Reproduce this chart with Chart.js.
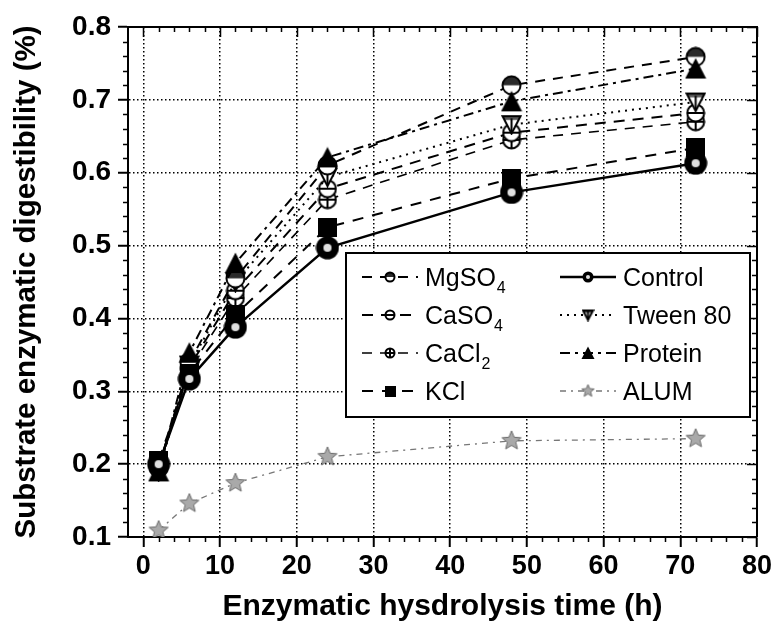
<!DOCTYPE html>
<html>
<head>
<meta charset="utf-8">
<script src="https://cdn.jsdelivr.net/npm/chart.js@4.4.1/dist/chart.umd.min.js"></script>
<style>
html, body { margin: 0; padding: 0; background: #fff; }
</style>
</head>
<body>
<canvas id="chart" width="777" height="626"></canvas>
<script>
// hydrolysis times (h)
const hours = [2, 6, 12, 24, 48, 72];

// digestibility
const control = [0.200, 0.317, 0.388, 0.497, 0.573, 0.613];
const kcl     = [0.205, 0.325, 0.405, 0.525, 0.592, 0.634];
const cacl2   = [0.195, 0.330, 0.428, 0.563, 0.645, 0.670];
const caso4   = [0.195, 0.333, 0.438, 0.578, 0.655, 0.682];
const tween80 = [0.190, 0.336, 0.450, 0.594, 0.666, 0.697];
const mgso4   = [0.195, 0.340, 0.455, 0.610, 0.720, 0.759];
const protein = [0.190, 0.353, 0.476, 0.621, 0.698, 0.743];
const alum    = [0.109, 0.146, 0.174, 0.210, 0.232, 0.235];

const xTicks = { min: -2, max: 80, step: 10, minor: 2 };
const yTicks = { min: 0.1, max: 0.8, step: 0.1, minor: 0.02 };

const FONT = "'Liberation Sans', Arial, Helvetica, sans-serif";
Chart.defaults.font.family = FONT;
Chart.defaults.color = '#000';

// small canvases used as point markers
function marker(size, draw) {
    const c = document.createElement('canvas');
    c.width = size; c.height = size;
    draw(c.getContext('2d'), size);
    return c;
}

function controlMark(s) {
    return marker(s, (g, n) => {
        g.fillStyle = '#000';
        g.beginPath(); g.arc(n / 2, n / 2, n / 2 - 0.5, 0, Math.PI * 2); g.fill();
        g.fillStyle = '#e0e0e0';
        g.beginPath(); g.arc(n / 2, n / 2, n * 0.17, 0, Math.PI * 2); g.fill();
    });
}
function halfCircleMark(s) {
    return marker(s, (g, n) => {
        const r = n / 2 - 1.5;
        g.fillStyle = '#fff';
        g.beginPath(); g.arc(n / 2, n / 2, r, 0, Math.PI * 2); g.fill();
        g.fillStyle = '#2a2a2a';
        g.beginPath(); g.arc(n / 2, n / 2, r, Math.PI, 0); g.closePath(); g.fill();
        g.strokeStyle = '#000'; g.lineWidth = 2;
        g.beginPath(); g.arc(n / 2, n / 2, r, 0, Math.PI * 2); g.stroke();
    });
}
function thetaMark(s) {
    return marker(s, (g, n) => {
        const r = n / 2 - 1.5;
        g.fillStyle = '#fff';
        g.beginPath(); g.arc(n / 2, n / 2, r, 0, Math.PI * 2); g.fill();
        g.strokeStyle = '#000'; g.lineWidth = 2;
        g.beginPath(); g.arc(n / 2, n / 2, r, 0, Math.PI * 2); g.stroke();
        g.beginPath(); g.moveTo(n / 2 - r, n / 2); g.lineTo(n / 2 + r, n / 2); g.stroke();
    });
}
function crossCircleMark(s) {
    return marker(s, (g, n) => {
        const r = n / 2 - 1.5;
        g.fillStyle = '#fff';
        g.beginPath(); g.arc(n / 2, n / 2, r, 0, Math.PI * 2); g.fill();
        g.strokeStyle = '#000'; g.lineWidth = 2;
        g.beginPath(); g.arc(n / 2, n / 2, r, 0, Math.PI * 2); g.stroke();
        g.beginPath();
        g.moveTo(n / 2 - r, n / 2); g.lineTo(n / 2 + r, n / 2);
        g.moveTo(n / 2, n / 2 - r); g.lineTo(n / 2, n / 2 + r);
        g.stroke();
    });
}
function squareMark(s) {
    return marker(s, (g, n) => { g.fillStyle = '#000'; g.fillRect(0, 0, n, n); });
}
function downTriMark(s) {
    return marker(s, (g, n) => {
        g.fillStyle = '#fff'; g.strokeStyle = '#000'; g.lineWidth = 2;
        g.beginPath(); g.moveTo(1.5, 2); g.lineTo(n - 1.5, 2); g.lineTo(n / 2, n - 1.5); g.closePath();
        g.fill();
        g.fillStyle = '#555';
        g.fillRect(3, 2, n - 6, n * 0.18);
        g.stroke();
        g.beginPath(); g.moveTo(n / 2, n * 0.2); g.lineTo(n / 2, n - 3); g.stroke();
    });
}
function upTriMark(s) {
    return marker(s, (g, n) => {
        g.fillStyle = '#000';
        g.beginPath(); g.moveTo(n / 2, 0.5); g.lineTo(n - 0.5, n - 1); g.lineTo(0.5, n - 1); g.closePath(); g.fill();
    });
}
function starMark(s) {
    return marker(s, (g, n) => {
        const c = n / 2, R = n / 2 - 1, r = R * 0.45;
        g.beginPath();
        for (let i = 0; i < 10; i++) {
            const a = -Math.PI / 2 + i * Math.PI / 5;
            const rad = i % 2 === 0 ? R : r;
            g.lineTo(c + rad * Math.cos(a), c + rad * Math.sin(a));
        }
        g.closePath();
        g.fillStyle = '#a9a9a9'; g.fill();
        g.strokeStyle = '#6a6a6a'; g.lineWidth = 1; g.stroke();
    });
}

const series = [
    { label: 'Control', sub: '', data: control, dash: [], width: 2.5, color: '#000', mark: controlMark, size: 24, legSize: 12 },
    { label: 'KCl', sub: '', data: kcl, dash: [11, 9], width: 2, color: '#000', mark: squareMark, size: 19, legSize: 11 },
    { label: 'Protein', sub: '', data: protein, dash: [10, 5, 3, 5], width: 2, color: '#000', mark: upTriMark, size: 22, legSize: 14 },
    { label: 'MgSO', sub: '4', data: mgso4, dash: [10, 8], width: 2, color: '#000', mark: halfCircleMark, size: 21, legSize: 12 },
    { label: 'Tween 80', sub: '', data: tween80, dash: [2, 5], width: 2, color: '#000', mark: downTriMark, size: 21, legSize: 13 },
    { label: 'CaSO', sub: '4', data: caso4, dash: [11, 8], width: 2, color: '#000', mark: thetaMark, size: 20, legSize: 12 },
    { label: 'CaCl', sub: '2', data: cacl2, dash: [10, 8], width: 1.6, color: '#000', mark: crossCircleMark, size: 20, legSize: 12 },
    { label: 'ALUM', sub: '', data: alum, dash: [6, 5, 2, 5], width: 1.3, color: '#777', mark: starMark, size: 22, legSize: 15 }
];

const legendCols = [
    ['MgSO', 'CaSO', 'CaCl', 'KCl'],
    ['Control', 'Tween 80', 'Protein', 'ALUM']
];

const datasets = series.map(s => ({
    label: s.label + s.sub,
    data: hours.map((h, i) => ({ x: h, y: s.data[i] })),
    borderColor: s.color,
    borderWidth: s.width,
    borderDash: s.dash,
    pointStyle: s.mark(s.size),
    pointRadius: s.size / 2,
    tension: 0,
    fill: false
}));

// frame, minor ticks and mirrored ticks
const frameTicks = {
    id: 'frameTicks',
    afterDraw(chart) {
        const { ctx, chartArea: a, scales: { x, y } } = chart;
        ctx.save();
        ctx.strokeStyle = '#000';
        ctx.lineWidth = 2;
        ctx.beginPath();
        ctx.moveTo(a.left, a.top); ctx.lineTo(a.right, a.top); ctx.lineTo(a.right, a.bottom);
        ctx.stroke();
        ctx.lineWidth = 1.5;
        ctx.beginPath();
        for (let v = 0; v <= xTicks.max + 1e-9; v += xTicks.minor) {
            const px = Math.round(x.getPixelForValue(v)) + 0.5;
            const major = Math.abs(v / xTicks.step - Math.round(v / xTicks.step)) < 1e-6;
            if (!major) { ctx.moveTo(px, a.bottom); ctx.lineTo(px, a.bottom + 5); }
            ctx.moveTo(px, a.top); ctx.lineTo(px, a.top + (major ? 10 : 5));
        }
        const n = Math.round((yTicks.max - yTicks.min) / yTicks.minor);
        for (let k = 0; k <= n; k++) {
            const v = yTicks.min + k * yTicks.minor;
            const py = Math.round(y.getPixelForValue(v)) + 0.5;
            const major = k % 5 === 0;
            if (!major) { ctx.moveTo(a.left, py); ctx.lineTo(a.left - 5, py); }
            ctx.moveTo(a.right, py); ctx.lineTo(a.right - (major ? 10 : 5), py);
        }
        ctx.stroke();
        ctx.restore();
    }
};

// boxed two-column legend inside the plot
const boxLegend = {
    id: 'boxLegend',
    afterDraw(chart) {
        const ctx = chart.ctx;
        const box = { x: 346, y: 253, w: 404, h: 164 };
        ctx.save();
        ctx.fillStyle = '#fff';
        ctx.fillRect(box.x, box.y, box.w, box.h);
        ctx.strokeStyle = '#000';
        ctx.lineWidth = 2;
        ctx.strokeRect(box.x, box.y, box.w, box.h);
        const colX = [362, 560];
        const rowY = [277, 315, 353, 391];
        legendCols.forEach((col, ci) => {
            col.forEach((name, ri) => {
                const s = series.find(d => d.label === name);
                const x0 = colX[ci], x1 = x0 + 56, cy = rowY[ri];
                ctx.strokeStyle = s.color;
                ctx.lineWidth = s.width;
                ctx.setLineDash(s.dash);
                ctx.beginPath(); ctx.moveTo(x0, cy); ctx.lineTo(x1, cy); ctx.stroke();
                ctx.setLineDash([]);
                const m = s.mark(s.legSize);
                ctx.drawImage(m, (x0 + x1) / 2 - s.legSize / 2, cy - s.legSize / 2);
                ctx.fillStyle = '#000';
                ctx.textBaseline = 'alphabetic';
                ctx.font = '25px ' + FONT;
                const tx = x1 + 7;
                ctx.fillText(s.label, tx, cy + 9);
                if (s.sub) {
                    const w = ctx.measureText(s.label).width;
                    ctx.font = '16px ' + FONT;
                    ctx.fillText(s.sub, tx + w + 1, cy + 16);
                }
            });
        });
        ctx.restore();
    }
};

const gridStyle = {
    color: '#000',
    lineWidth: 1.5,
    tickLength: 10,
    tickWidth: 2,
    tickColor: '#000'
};

new Chart(document.getElementById('chart'), {
    type: 'line',
    data: { datasets: datasets },
    options: {
        responsive: false,
        animation: false,
        devicePixelRatio: 1,
        layout: { padding: { top: 27, right: 20, left: 0, bottom: 0 } },
        plugins: {
            legend: { display: false },
            tooltip: { enabled: false }
        },
        scales: {
            x: {
                type: 'linear',
                position: 'bottom',
                min: xTicks.min,
                max: xTicks.max,
                afterFit: s => { s.height = 89; },
                ticks: {
                    stepSize: xTicks.step,
                    includeBounds: false,
                    autoSkip: false,
                    maxRotation: 0,
                    padding: 3,
                    color: '#000',
                    font: { size: 27, weight: 'bold' }
                },
                grid: gridStyle,
                border: { display: true, color: '#000', width: 2, dash: [1.5, 2.5] },
                title: {
                    display: true,
                    text: 'Enzymatic hysdrolysis time (h)',
                    color: '#000',
                    font: { size: 30, weight: 'bold', lineHeight: 1 },
                    padding: { top: 0, bottom: 4 }
                }
            },
            y: {
                type: 'linear',
                position: 'left',
                min: yTicks.min,
                max: yTicks.max,
                afterFit: s => { s.width = 128; },
                ticks: {
                    stepSize: yTicks.step,
                    includeBounds: false,
                    autoSkip: false,
                    padding: 7,
                    color: '#000',
                    font: { size: 28, weight: 'bold' },
                    callback: v => v.toFixed(1)
                },
                grid: gridStyle,
                border: { display: true, color: '#000', width: 2, dash: [1.5, 2.5] },
                title: {
                    display: true,
                    text: 'Substrate enzymatic digestibility (%)',
                    color: '#000',
                    font: { size: 29.5, weight: 'bold', lineHeight: 1 },
                    padding: { top: 12, bottom: 0 }
                }
            }
        }
    },
    plugins: [frameTicks, boxLegend]
});
</script>
</body>
</html>
